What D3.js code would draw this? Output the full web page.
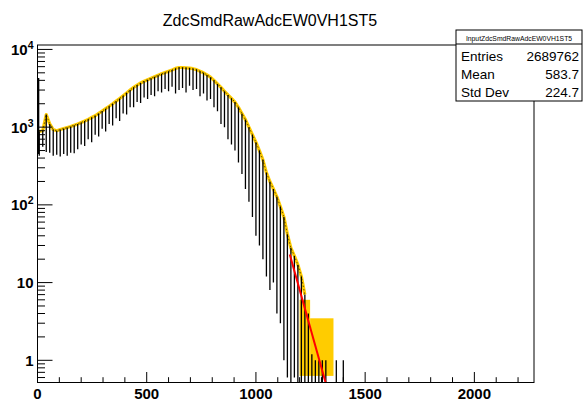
<!DOCTYPE html>
<html><head><meta charset="utf-8">
<script src="https://cdn.jsdelivr.net/npm/d3@7"></script>
<style>
body{margin:0;background:#fff}
text{font-family:"Liberation Sans",Arial,Helvetica,sans-serif}
</style>
</head><body>
<svg id="c" width="583" height="402"></svg>
<script>
// ---- data ----
const title = "ZdcSmdRawAdcEW0VH1ST5";
const statName = "InputZdcSmdRawAdcEW0VH1ST5";
const statLabels = ["Entries", "Mean", "Std Dev"];
const statValues = ["2689762", "583.7", "224.7"];

const binCenters = [8,24,40,56,72,88,104,120,136,152,168,184,200,216,232,248,
 264,280,296,312,328,344,360,376,392,408,424,440,456,472,488,504,
 520,536,552,568,584,600,616,632,648,664,680,696,712,728,744,760,
 776,792,808,824,840,856,872,888,904,920,936,952,968,984,1000,1016,
 1032,1048,1064,1080,1096,1112,1128,1144,1160,1176,1192,1208,1224,1240,1256,1272,
 1288,1304,1320,1336,1352,1368,1384,1400,1416];
const binTop = [880,900,1450,1100,930,900,930,960,990,1020,1060,1100,1150,1200,1260,1330,
 1400,1500,1610,1730,1860,2000,2160,2340,2540,2760,3000,3250,3480,3700,3900,4080,
 4260,4450,4650,4850,5050,5250,5450,5700,5850,5850,5800,5750,5650,5500,5250,5000,
 4700,4400,4000,3600,3250,2900,2600,2350,2100,1800,1500,1250,1000,800,640,500,
 380,260,200,160,127,95,70,42,28,22,17,12,7,4,1.2,1,
 1,1,1,0,0,1,0,1,0];
const binLow = [430,560,480,470,430,440,420,450,430,470,460,520,600,570,700,640,
 800,760,950,880,1100,1050,1300,1200,1500,1450,1800,1800,2100,2050,2400,2300,
 2600,2500,2900,2800,3100,2900,3300,2700,3000,3200,2800,3400,3000,3100,2500,2700,
 2200,2300,1800,1600,1100,1000,700,600,500,350,250,160,110,70,40,30,
 20,12,8,10,4,3,1,0.6,0,0.6,0,0,0,0,0,0,
 0,0,0,0,0,0,0,0,0];
// spike in the very first channel
const spikeX = [1];
const spikeTop = [4300];
const spikeLow = [450];
// yellow error boxes of the tail
const tailX0 = [1200, 1248];
const tailX1 = [1248, 1355];
const tailLo = [0.63, 0.63];
const tailHi = [6, 3.47];
const yellowMaxX = 1224;
// exponential fit (red), straight on a log axis
const fitX = [1155, 1330];
const fitY = [23, 0.4];

const xTickMajor = [0, 500, 1000, 1500, 2000];
const xDomain = [0, 2273];
const yDomain = [0.518, 11400];

// ---- layout ----
const L = 37.5, R = 534, T = 45, B = 382.5;
const svg = d3.select("#c");
const x = d3.scaleLinear().domain(xDomain).range([L, R]);
const y = d3.scaleLog().domain(yDomain).range([B, T]);
const yc = v => v <= 0 ? B : Math.min(B, Math.max(T, y(v)));

const plot = svg.append("g");
svg.append("defs").append("clipPath").attr("id", "clip")
  .append("rect").attr("x", L).attr("y", T).attr("width", R - L).attr("height", B - T);
plot.attr("clip-path", "url(#clip)");

const yellow = "#ffcc00";
// tail yellow boxes
plot.selectAll("rect.tail").data(tailX0).join("rect")
  .attr("x", (d, i) => x(d)).attr("width", (d, i) => x(tailX1[i]) - x(d))
  .attr("y", (d, i) => y(tailHi[i])).attr("height", (d, i) => yc(tailLo[i]) - y(tailHi[i]))
  .attr("fill", yellow);
// yellow curve
const curvePts = binCenters.map((c, i) => [c, binTop[i]]).filter(p => p[0] <= yellowMaxX && p[1] > 0);
plot.append("path").datum(curvePts)
  .attr("d", d3.line().x(d => x(d[0])).y(d => y(d[1])))
  .attr("fill", "none").attr("stroke", yellow).attr("stroke-width", 3.2).attr("stroke-linejoin", "round");
// black channel lines
const segs = binCenters.map((c, i) => ({c, t: binTop[i], l: binLow[i]})).filter(d => d.t > 0);
plot.selectAll("line.b").data(segs).join("line")
  .attr("x1", d => x(d.c)).attr("x2", d => x(d.c))
  .attr("y1", d => y(d.t)).attr("y2", d => yc(d.l))
  .attr("stroke", "#000").attr("stroke-width", 1.3);
plot.selectAll("line.s").data(spikeX).join("line")
  .attr("x1", d => x(d) + 0.8).attr("x2", d => x(d) + 0.8)
  .attr("y1", (d, i) => y(spikeTop[i])).attr("y2", (d, i) => y(spikeLow[i]))
  .attr("stroke", "#000").attr("stroke-width", 1.6);
// thin black outline on top
plot.append("path").datum(curvePts)
  .attr("d", d3.line().x(d => x(d[0])).y(d => y(d[1])))
  .attr("fill", "none").attr("stroke", "#000").attr("stroke-width", 0.6).attr("stroke-dasharray", "1.5,2");
// red fit
plot.append("line")
  .attr("x1", x(fitX[0])).attr("y1", y(fitY[0])).attr("x2", x(fitX[1])).attr("y2", y(fitY[1]))
  .attr("stroke", "#ff0000").attr("stroke-width", 2);

// ---- frame & axes ----
svg.append("rect").attr("x", L).attr("y", T).attr("width", R - L).attr("height", B - T)
  .attr("fill", "none").attr("stroke", "#000").attr("stroke-width", 1);

const ax = svg.append("g").attr("stroke", "#000").attr("stroke-width", 1);
// x ticks
d3.range(0, xDomain[1] + 1, 100).forEach(v => {
  const major = v % 500 === 0;
  ax.append("line").attr("x1", x(v)).attr("x2", x(v)).attr("y1", B).attr("y2", B - (major ? 10.5 : 5.3));
});
svg.selectAll("text.xl").data(xTickMajor).join("text")
  .attr("x", d => x(d)).attr("y", 399).attr("text-anchor", "middle")
  .attr("font-size", 15).attr("font-weight", "bold").text(d => d);

// y ticks
for (let e = -1; e <= 4; e++) {
  for (let m = 1; m <= 9; m++) {
    const v = m * Math.pow(10, e);
    if (v < yDomain[0] || v > yDomain[1]) continue;
    const len = m === 1 ? 15 : 7.5;
    ax.append("line").attr("x1", L).attr("x2", L + len).attr("y1", y(v)).attr("y2", y(v));
  }
}
const yLabs = [[1, "1", null], [10, "10", null], [100, "10", "2"], [1000, "10", "3"], [10000, "10", "4"]];
yLabs.forEach(([v, base, sup]) => {
  const t = svg.append("text").attr("y", y(v) + 5.5).attr("text-anchor", "end")
    .attr("font-size", 15).attr("font-weight", "bold");
  if (sup) {
    t.attr("x", 33.5);
    t.append("tspan").text(base);
    t.append("tspan").attr("font-size", 10.5).attr("dy", -6).text(sup);
  } else {
    t.attr("x", 33.5).text(base);
  }
});

// ---- title ----
svg.append("text").attr("x", 270).attr("y", 26).attr("text-anchor", "middle")
  .attr("font-size", 16).text(title);

// ---- stats box ----
const sb = {x: 456, y: 30, w: 126, h: 71};
svg.append("rect").attr("x", sb.x).attr("y", sb.y).attr("width", sb.w).attr("height", sb.h)
  .attr("fill", "#fff").attr("stroke", "#000").attr("stroke-width", 1);
svg.append("line").attr("x1", sb.x).attr("x2", sb.x + sb.w).attr("y1", 44).attr("y2", 44).attr("stroke", "#000");
svg.append("text").attr("x", sb.x + sb.w / 2).attr("y", 40.5).attr("text-anchor", "middle")
  .attr("font-size", 6.8).text(statName);
statLabels.forEach((s, i) => {
  const yy = 60.5 + i * 18;
  svg.append("text").attr("x", sb.x + 5).attr("y", yy).attr("font-size", 13.5).text(s);
  svg.append("text").attr("x", sb.x + sb.w - 3).attr("y", yy).attr("text-anchor", "end")
    .attr("font-size", 13.5).text(statValues[i]);
});
</script>
</body></html>
